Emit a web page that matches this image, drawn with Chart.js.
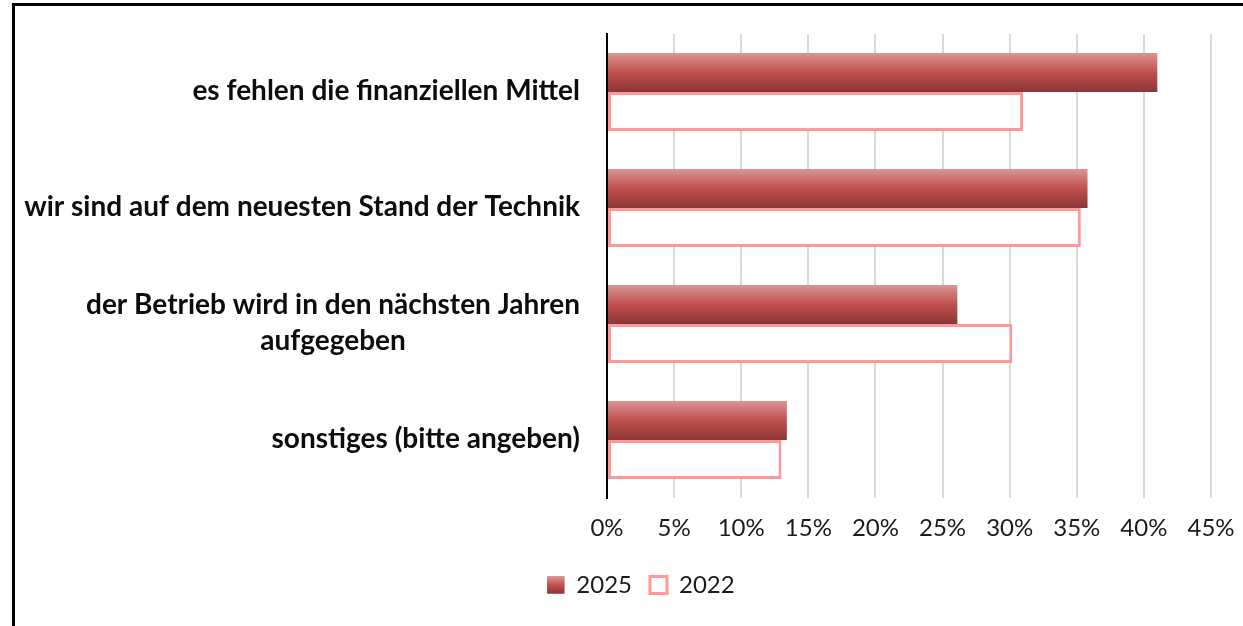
<!DOCTYPE html>
<html>
<head>
<meta charset="utf-8">
<script src="https://cdn.jsdelivr.net/npm/chart.js@4"></script>
<style>
  html, body { margin: 0; padding: 0; background: #fff; overflow: hidden; }
  #frame { position: absolute; left: 12px; top: 3px; width: 1400px; height: 800px;
           border-top: 3px solid #000; border-left: 3px solid #000; }
  #wrap { position: absolute; left: 0; top: 0; width: 1243px; height: 626px; }
</style>
</head>
<body>
<div id="frame"></div>
<div id="wrap"><canvas id="chart"></canvas></div>
<script>
// ===============================
// Daten
// ===============================
const kategorien = [
  ['es fehlen die finanziellen Mittel'],
  ['wir sind auf dem neuesten Stand der Technik'],
  ['der Betrieb wird in den nächsten Jahren', 'aufgegeben'],
  ['sonstiges (bitte angeben)']
];
const werte2025 = [41.0, 35.8, 26.1, 13.4];
const werte2022 = [31.0, 35.3, 30.2, 13.0];
const achseMax = 45;
const achseSchritt = 5;

const catPct = 0.672;
const mittelRot = '#b84a48';

function rotVerlauf(ctx2d, top, bottom) {
  const g = ctx2d.createLinearGradient(0, top, 0, bottom);
  g.addColorStop(0, '#d99694');
  g.addColorStop(0.5, '#c0504d');
  g.addColorStop(1, '#8b3634');
  return g;
}

// Verlauf je Balken (oben hell, unten dunkel)
function verlauf2025(ctx) {
  const chart = ctx.chart;
  const y = chart.scales.y;
  if (ctx.type !== 'data' || !y) return mittelRot;
  const mitte = y.getPixelForValue(ctx.dataIndex);
  const dicke = (y.height / kategorien.length) * catPct / 2;
  const top = mitte - dicke, bottom = mitte;
  if (!isFinite(top) || !isFinite(bottom) || dicke <= 0) return mittelRot;
  return rotVerlauf(chart.ctx, top, bottom);
}

// Beschriftung der Kategorien (rechtsbündig, mehrzeilig zentriert)
const kategorieLabels = {
  id: 'kategorieLabels',
  afterDraw(chart) {
    const ctx = chart.ctx;
    const y = chart.scales.y;
    const rechts = chart.chartArea.left - 27;
    const zeilenHoehe = 36;
    ctx.save();
    ctx.font = 'bold 28px Lato';
    ctx.fillStyle = '#0d0d0d';
    ctx.textAlign = 'center';
    ctx.textBaseline = 'middle';
    chart.data.labels.forEach((zeilen, i) => {
      const mitte = y.getPixelForTick(i) - 1;
      const breite = Math.max(...zeilen.map(z => ctx.measureText(z).width));
      const x = rechts - breite / 2;
      const start = mitte - (zeilen.length - 1) * zeilenHoehe / 2;
      zeilen.forEach((z, k) => ctx.fillText(z, x, start + k * zeilenHoehe));
    });

    // Legendenkästchen 2025 mit Verlauf
    const hb = chart.legend && chart.legend.legendHitBoxes && chart.legend.legendHitBoxes[0];
    if (hb) {
      const box = chart.legend.options.labels.boxHeight;
      const top = hb.top + (hb.height - box) / 2;
      ctx.fillStyle = rotVerlauf(ctx, top, top + box);
      ctx.fillRect(hb.left, top, chart.legend.options.labels.boxWidth, box);
    }
    ctx.restore();
  }
};

new Chart(document.getElementById('chart'), {
  type: 'bar',
  data: {
    labels: kategorien,
    datasets: [{
      label: '2025',
      data: werte2025,
      backgroundColor: verlauf2025,
      borderWidth: 0
    }, {
      label: '2022',
      data: werte2022,
      backgroundColor: '#ffffff',
      borderColor: '#ff9999',
      borderWidth: 3,
      borderSkipped: false
    }]
  },
  options: {
    indexAxis: 'y',
    responsive: true,
    maintainAspectRatio: false,
    animation: false,
    categoryPercentage: catPct,
    barPercentage: 1.0,
    layout: { padding: { left: 71, right: 32, top: 34, bottom: 19 } },
    plugins: {
      tooltip: { enabled: false },
      legend: {
        position: 'bottom',
        labels: {
          font: { family: 'Lato', size: 24 },
          color: '#1a1a1a',
          boxWidth: 17,
          boxHeight: 17,
          padding: 18
        }
      }
    },
    scales: {
      x: {
        min: 0,
        max: achseMax,
        ticks: {
          stepSize: achseSchritt,
          padding: 16,
          color: '#1a1a1a',
          font: { family: 'Lato', size: 24 },
          callback: v => v + '%'
        },
        grid: { color: '#d9d9d9', lineWidth: 2, drawTicks: false },
        border: { display: false },
        afterFit(scale) {
          scale.height = 57;
          scale.paddingLeft = 0;
          scale.paddingRight = 0;
        }
      },
      y: {
        ticks: { display: false },
        grid: { display: false },
        border: { display: true, color: '#000', width: 2 },
        afterFit(scale) { scale.width = 536; }
      }
    }
  },
  plugins: [kategorieLabels]
});
</script>
</body>
</html>
